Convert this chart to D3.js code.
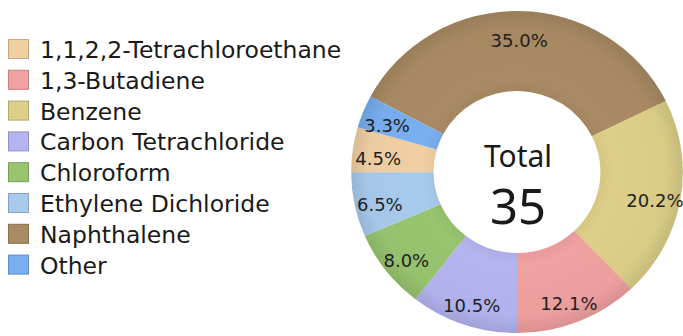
<!DOCTYPE html>
<html>
<head>
<meta charset="utf-8">
<script src="https://cdn.jsdelivr.net/npm/d3@7"></script>
<style>
  html, body { margin: 0; padding: 0; background: #fff; }
  svg { display: block; font-family: "Noto Sans", sans-serif; }
</style>
</head>
<body>
<div id="chart"></div>
<script>
// legend order
const categories = ["1,1,2,2-Tetrachloroethane", "1,3-Butadiene", "Benzene", "Carbon Tetrachloride",
  "Chloroform", "Ethylene Dichloride", "Naphthalene", "Other"];
const percents = [4.5, 12.1, 20.2, 10.5, 8.0, 6.5, 35.0, 3.3];
const colors = ["#f0cfa3", "#f0a1a0", "#ddcf88", "#b4b4f0", "#98c46f", "#a8caec", "#a98b63", "#79aef0"];
// clockwise order of the slices in the ring
const sliceOrder = ["Naphthalene", "Benzene", "1,3-Butadiene", "Carbon Tetrachloride",
  "Chloroform", "Ethylene Dichloride", "1,1,2,2-Tetrachloroethane", "Other"];
const totalLabel = "Total";
const totalValue = "35";

const width = 683, height = 336;
const cx = 517, cy = 172;
const outerR = 161, innerR = 81, sx = 1.03;

const svg = d3.select("#chart").append("svg")
  .attr("width", width).attr("height", height);

const color = d3.scaleOrdinal().domain(categories).range(colors);

const rows = sliceOrder.map(name => ({ name, value: percents[categories.indexOf(name)] }));
const total = d3.sum(rows, d => d.value);
const firstHalf = d3.sum(rows.slice(0, 3), d => d.value);
const start = Math.PI - 2 * Math.PI * firstHalf / total;

const pie = d3.pie().sort(null).value(d => d.value)
  .startAngle(start).endAngle(start + 2 * Math.PI);
const arcs = pie(rows);

const arc = d3.arc().innerRadius(innerR).outerRadius(outerR);
const labelArc = d3.arc().innerRadius(outerR * 0.845).outerRadius(outerR * 0.845);

// legend (drawn first so the ring sits on top of any overflow)
const legend = svg.append("g").attr("transform", "translate(8,49)");
const item = legend.selectAll("g")
  .data(categories)
  .join("g")
  .attr("transform", (d, i) => `translate(0,${i * 30.8})`);

item.append("rect")
  .attr("x", 0.5).attr("y", -9.5)
  .attr("width", 20).attr("height", 19)
  .attr("fill", d => color(d))
  .attr("stroke", d => d3.color(color(d)).darker(0.6))
  .attr("stroke-width", 1);

item.append("text")
  .attr("x", 32).attr("y", 1)
  .attr("dominant-baseline", "central")
  .attr("font-family", "'DejaVu Sans', sans-serif")
  .attr("font-size", 23.5)
  .attr("fill", "#1a1a1a")
  .text(d => d);

const defs = svg.append("defs");
const grad = defs.append("radialGradient").attr("id", "shade")
  .attr("gradientUnits", "userSpaceOnUse").attr("cx", 0).attr("cy", 0).attr("r", outerR);
grad.append("stop").attr("offset", "0.5").attr("stop-color", "#000").attr("stop-opacity", 0.04);
grad.append("stop").attr("offset", "0.58").attr("stop-color", "#000").attr("stop-opacity", 0);
grad.append("stop").attr("offset", "0.9").attr("stop-color", "#000").attr("stop-opacity", 0.02);
grad.append("stop").attr("offset", "1").attr("stop-color", "#000").attr("stop-opacity", 0.1);

const ring = svg.append("g").attr("transform", `translate(${cx},${cy}) scale(${sx},1)`);
ring.selectAll("path.slice")
  .data(arcs)
  .join("path")
  .attr("class", "slice")
  .attr("d", arc)
  .attr("fill", d => color(d.data.name));

ring.append("path")
  .attr("d", d3.arc().innerRadius(innerR).outerRadius(outerR).startAngle(0).endAngle(2 * Math.PI)())
  .attr("fill", "url(#shade)");

svg.append("g")
  .selectAll("text")
  .data(arcs)
  .join("text")
  .attr("x", d => cx + sx * labelArc.centroid(d)[0])
  .attr("y", d => cy + 5 + labelArc.centroid(d)[1])
  .attr("text-anchor", "middle")
  .attr("dominant-baseline", "central")
  .attr("font-family", "'DejaVu Sans', sans-serif")
  .attr("font-size", 18)
  .attr("fill", "#1e1e1e")
  .text(d => d.data.value.toFixed(1) + "%");

svg.append("text")
  .attr("x", cx + 1).attr("y", 167)
  .attr("text-anchor", "middle")
  .attr("font-size", 30)
  .attr("fill", "#1a1a1a")
  .text(totalLabel);

svg.append("text")
  .attr("x", cx + 1).attr("y", 224)
  .attr("text-anchor", "middle")
  .attr("font-size", 49)
  .attr("fill", "#1a1a1a")
  .text(totalValue);
</script>
</body>
</html>
